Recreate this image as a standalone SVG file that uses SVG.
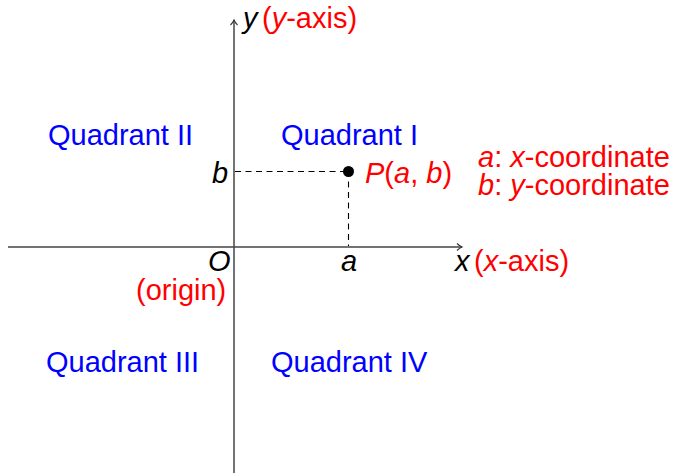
<svg xmlns="http://www.w3.org/2000/svg" width="676" height="473" viewBox="0 0 676 473">
<style>
text{font-family:"Liberation Sans",Arial,Helvetica,sans-serif;font-size:29px}
.it{font-style:italic}
.blue{fill:#0000ff}
.red{fill:#ff0000}
.blk{fill:#000}
.axis{stroke:#444;stroke-width:1.5;fill:none}
.dash{stroke:#000;stroke-width:1.1;stroke-dasharray:6 4.5;fill:none}
</style>
<defs>
<marker id="arr" markerWidth="12" markerHeight="12" refX="9" refY="6" orient="auto" markerUnits="userSpaceOnUse">
<path d="M4,2.5 Q6.5,5 9,6 Q6.5,7 4,9.5" fill="none" stroke="#333" stroke-width="1.1"/>
</marker>
</defs>
<rect width="676" height="473" fill="#fff"/>
<g id="connectors">
<line class="axis" x1="8" y1="247" x2="462" y2="247" marker-end="url(#arr)"/>
<line class="axis" x1="234" y1="473" x2="234" y2="20" marker-end="url(#arr)"/>
<path class="dash" d="M235,171.5 H348 M348.5,171 V246"/>
</g>
<g id="y-axis-label">
<text x="243" y="28" class="blk it">y</text>
<text x="262" y="28" class="red">(<tspan class="it">y</tspan>-axis)</text>
</g>
<g id="x-axis-label">
<text x="455" y="271" class="blk it">x</text>
<text x="474" y="271" class="red">(<tspan class="it">x</tspan>-axis)</text>
</g>
<g id="quadrant-1"><text x="281" y="145" class="blue">Quadrant I</text></g>
<g id="quadrant-2"><text x="48" y="145" class="blue">Quadrant II</text></g>
<g id="quadrant-3"><text x="46" y="372" class="blue">Quadrant III</text></g>
<g id="quadrant-4"><text x="271" y="372" class="blue">Quadrant IV</text></g>
<g id="b-label"><text x="212" y="183" class="blk it">b</text></g>
<g id="a-label"><text x="349" y="271" class="blk it" text-anchor="middle">a</text></g>
<g id="origin">
<text x="208" y="271" class="blk it">O</text>
<text x="136" y="300" class="red">(origin)</text>
</g>
<g id="point-P">
<circle cx="348.5" cy="171.5" r="5.5" fill="#000"/>
<text x="365" y="183" class="red"><tspan class="it">P</tspan>(<tspan class="it">a</tspan>, <tspan class="it">b</tspan>)</text>
</g>
<g id="legend">
<text x="478" y="167" class="red"><tspan class="it">a</tspan>: <tspan class="it">x</tspan>-coordinate</text>
<text x="478" y="195" class="red"><tspan class="it">b</tspan>: <tspan class="it">y</tspan>-coordinate</text>
</g>
</svg>
